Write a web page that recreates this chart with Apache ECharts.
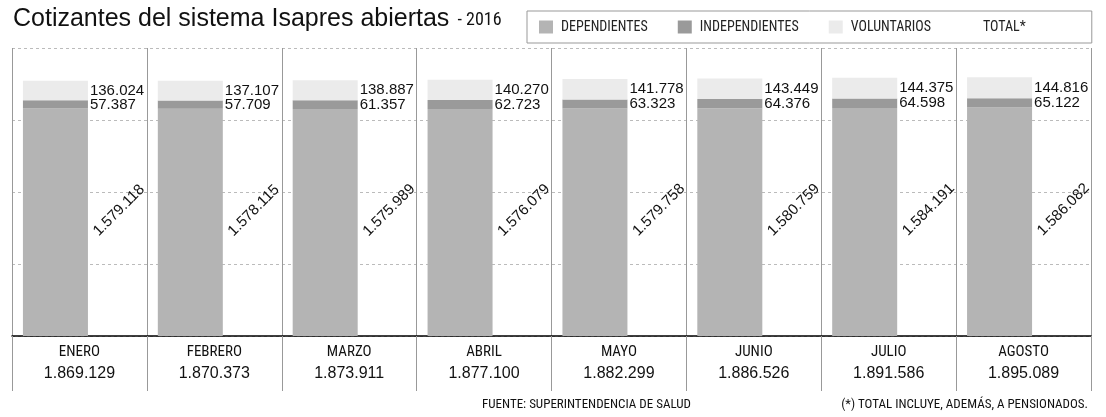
<!DOCTYPE html>
<html>
<head>
<meta charset="utf-8">
<script src="https://cdn.jsdelivr.net/npm/echarts@6/dist/echarts.min.js"></script>
<style>
html,body{margin:0;padding:0;background:#fff;}
#chart{width:1106px;height:417px;}
</style>
</head>
<body>
<div id="chart"></div>
<script>
const months = ['ENERO','FEBRERO','MARZO','ABRIL','MAYO','JUNIO','JULIO','AGOSTO'];
const dependientes = [1579118,1578115,1575989,1576079,1579758,1580759,1584191,1586082];
const independientes = [57387,57709,61357,62723,63323,64376,64598,65122];
const voluntarios = [136024,137107,138887,140270,141778,143449,144375,144816];
const totales = [1869129,1870373,1873911,1877100,1882299,1886526,1891586,1895089];
const yTicks = {min:0, max:2000000, interval:500000};

const NARROW = "'Liberation Sans Narrow','Arial Narrow','Roboto Condensed',sans-serif";
const SANS = "'Liberation Sans',Arial,Helvetica,sans-serif";
const fmt = n => String(n).replace(/\B(?=(\d{3})+(?!\d))/g, '.');

const chart = echarts.init(document.getElementById('chart'), null, {renderer:'canvas'});
const valLabel = {
  show:true, position:'right', distance:2, color:'#111',
  fontFamily:SANS, fontSize:15, formatter: p => fmt(p.value)
};
chart.setOption({
  animation:false,
  backgroundColor:'#fff',
  title:{
    left:13, top:7, padding:0,
    text:'{a|Cotizantes del sistema Isapres abiertas}{b| - 2016}',
    textStyle:{
      fontWeight:'normal',
      rich:{
        a:{fontFamily:SANS, fontSize:25, fontWeight:'normal', color:'#111'},
        b:{fontFamily:NARROW, fontSize:18, fontWeight:'normal', color:'#111', padding:[2,0,0,4]}
      }
    }
  },
  legend:{
    left:527, top:11,
    itemWidth:14, itemHeight:13, itemGap:30,
    padding:[9,66,9,12],
    borderColor:'#999', borderWidth:1,
    icon:'rect',
    selectedMode:false,
    textStyle:{fontFamily:NARROW, fontSize:14, color:'#222', padding:[0,0,0,3]},
    data:['DEPENDIENTES','INDEPENDIENTES','VOLUNTARIOS',{name:'TOTAL*', itemStyle:{opacity:0}}]
  },
  grid:{left:12, right:15, top:48, bottom:81, containLabel:false},
  xAxis:{
    type:'category', data:months, boundaryGap:true,
    axisLine:{show:true, lineStyle:{color:'#000', width:1.5}},
    axisTick:{show:true, length:55, interval:0, lineStyle:{color:'#999', width:1}},
    splitLine:{show:true, interval:0, lineStyle:{color:'#999', width:1}},
    axisLabel:{
      interval:0, margin:5,
      formatter:(v,i)=>'{m|'+v+'}\n{t|'+fmt(totales[i])+'}',
      rich:{
        m:{fontFamily:NARROW, fontSize:15, color:'#111', lineHeight:22},
        t:{fontFamily:SANS, fontSize:16, color:'#111', lineHeight:22}
      }
    }
  },
  yAxis:{
    type:'value', min:yTicks.min, max:yTicks.max, interval:yTicks.interval,
    axisLine:{show:false}, axisTick:{show:false}, axisLabel:{show:false},
    splitLine:{show:true, lineStyle:{color:'#bbb', type:[3,3], width:1}}
  },
  series:[
    {name:'DEPENDIENTES', type:'bar', stack:'a', barWidth:65, barGap:'0%',
     itemStyle:{color:'#b4b4b4'}, data:dependientes,
     label:{show:true, position:['112%','55%'], align:'left', verticalAlign:'middle',
            rotate:45, color:'#111', fontFamily:SANS, fontSize:15, formatter:p=>fmt(p.value)}},
    {name:'INDEPENDIENTES', type:'bar', stack:'a', barWidth:65, barGap:'0%',
     itemStyle:{color:'#9a9a9a'}, data:independientes, label:valLabel},
    {name:'VOLUNTARIOS', type:'bar', stack:'a', barWidth:65, barGap:'0%',
     itemStyle:{color:'#ebebeb'}, data:voluntarios, label:valLabel},
    {name:'TOTAL*', type:'bar', stack:'b', barWidth:48, barGap:'0%', silent:true,
     itemStyle:{color:'rgba(0,0,0,0)'}, data:totales}
  ],
  graphic:[
    {type:'text', left:482, top:398,
     style:{text:'FUENTE: SUPERINTENDENCIA DE SALUD', fontFamily:NARROW, fontSize:13, fill:'#111'}},
    {type:'text', right:18, top:398,
     style:{text:'(*) TOTAL INCLUYE, ADEMÁS, A PENSIONADOS.', fontFamily:NARROW, fontSize:13, fill:'#111'}}
  ]
});
</script>
</body>
</html>
